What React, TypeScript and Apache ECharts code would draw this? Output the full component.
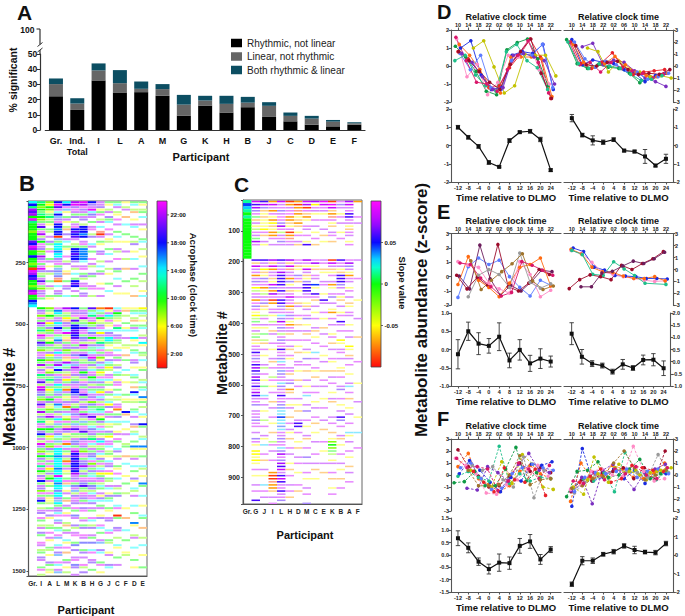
import React, { useEffect, useRef } from "react";
import * as echarts from "echarts";

const FONT = "'Liberation Sans', Arial, Helvetica, sans-serif";

// ---------------- Panel A ----------------
const A_CATEGORIES = ["Gr.", "Ind.\nTotal", "I", "L", "A", "M", "G", "K", "H", "B", "J", "C", "D", "E", "F"];
const A_RHYTHMIC = [22.2, 13.2, 32.6, 24.7, 24.9, 22.5, 9.5, 16.1, 11.5, 15.0, 8.6, 5.7, 3.5, 2.4, 3.5];
const A_LINEAR = [8.0, 4.2, 6.6, 6.1, 2.2, 4.4, 7.2, 3.3, 5.7, 3.0, 7.3, 3.6, 4.0, 3.1, 0.9];
const A_BOTH = [3.7, 3.5, 4.6, 8.6, 4.8, 3.3, 6.4, 3.1, 5.3, 3.8, 2.4, 2.2, 1.8, 1.1, 0.7];
const A_SERIES_NAMES = ["Rhythmic, not linear", "Linear, not rhythmic", "Both rhythmic & linear"];
const A_BREAK_TICK = "100";

// ---------------- Panel B (acrophase heat map) ----------------
const B_PARTICIPANTS = ["Gr.", "I", "A", "L", "M", "K", "B", "H", "G", "J", "C", "F", "D", "E"];
const B_MAX_ROW = 1520;
const B_BLOCK = 10;
const B_SEG_LEN = [40, 3, 33, 45, 31];
// letter -> acrophase (clock hour); lowercase = faint cell
const B_CODES: Record<string, number> = { R: 1, O: 3, Y: 6, L: 8, G: 10, T: 12, C: 14, S: 16, B: 18, V: 20, P: 22, M: 23.5 };
const B_COLUMNS: string[][] = [
  ["CBTPVPGMTGGGLGGGVBMPGGBGGLGRMPBVGGLGPMGG", "BSC", "", "", ""],
  ["TGLGgTGLgpVgmPlvGmpvLgPvmgpMvlgpVmgLpvmg", "...", "GvpLmgPvgTlMpgVbgLpmvGgPlvmTgpVlM", "PvbgLpVmgPlvgTpmGvBgplMvgLpGvgmTpGlvmBgpvLmgpv", "Bg.lpv.mg.lp.vg..mp.lg.vp..gm.l"],
  ["LYGLygTlgy.gl.p.vg.lm..gp.y.vl..g.pl..gy", "...", "LgyGlpYgvLgmlyGpglvYgLmgpyLvgTlpg", "YlgpGvlyLgmPgylvGgpYlmgLvgyTlpgmYgvlGpyg.lmgy", "yl.gp.vy..lg.m.py..gl.y..vg.ly.l"],
  ["BMVpcBsvmBBSBBRsgCCCSCCvpmgsbsbrO.c.pvg.", "...", "mSCgpvCsBpmgcSvlgpCmsgvPcBgmsvpCg", "CsvgmpScgvlpCmsgvpbcgslmCCCSCCCCSCCMCCSCCbCCv", "sCgpvcm.sp.gc.ms..cp.vs..mc.ps.c"],
  ["CBmsy.gpy.lo.v.pc.gy..m.lp..yo..g.pv..c.", "...", "PmlgYovpgcMlyogpvLgmoyPcgvlomYgpl", "OpgylvmOgpcyLmgoPvyglmOcpgyvlOmgpyl.gmoc.yp.g", "o.pg.ym..lo.gp..cy.m.o..gp.y.l"],
  ["PMvmpgv.lpmBVBVp.lgBBVBBv.pl.c.gBVB.p.g.", "...", "BpvmlVgBBVVBVpmgvlpbmgvsPpmvlgbpm", "BBbpmvlgPpbmvgspVmglpbvgmPBVBVBBVBPpvmgbpslvm", "pv.mg.bp..vl.pm..gb.v..pm.bv..p"],
  ["MPmvpgpv.lBBBSB.pmgSSSSSc.pm.gvl.pmg.vp.", "...", "gpvmPlgsVpmgbvlPmgpVslgmpvGbplmvg", "pmVgvlpbmgPvlsgmpVglbpmvgLpmgvbPslvgmpbVglmpv", "gp.vm..lp.gv..mp.b..gv.p..ml.v"],
  ["BvpMcbp.g.pm.lv..cp.g..m.pl..vg...pm..l.", "...", "VgcTmpLgvcbpGmlvtgcpMbgvlcmpGtvlp", "gcpvmLbgtcpVmglcbpvgTmclpgvbcmLpgvtcmpgbvlcpm", "cv.pg..mc.lv..pg.b..cm..pv..g"],
  ["ppvygm.lp.c.rRp.gy..vp..l.c.gp...y.m..p.", "...", "OcgpGylvmcYpglTvcmgpLyvcpgYlmcvgp", "gYpcvlmgTcpyGvlmcpgyvCmlgpcyvgmlcpYgvmlcg.pyv", "c.gp..yv..mc.g..ps..vc...gm..y"],
  ["gy.lp.vgc..m.p.yl..g.c..p..l.y...g..c..", "...", "RypCgmly.cvpCCgy.lmp.vcgYl.pmcyg.", "ypg.lcYv.mgp.cyl.vgY.pmc.lgy.cpv.mY.gl.pc.yvg", "c..gy..pv...cm..gl...yp...vc"],
  ["gcp.ly.m.p..g.c.y..pl..m...vg..c..p..y.", "...", "cpGgly.mTc.vpgl.yc.mgp.lv.cg.ypm", "g.cyl.pmO.gv.cl..yp.mg..cv.lp..gy.m.c..pl.gv", "..cm..Rg...vp..l..cy...g..p"],
  ["y.lp..o..c...g..y...p..l...o....g....y.", "...", "yo.l..g.yc..p..ly..o.g...c.l..y.", "..g.yl...Bo..c..y.p...lg...o..c....y..g...l", "...y...o....c...g....yl...."],
  ["gc.lo..y.pc...g.lv..y..c...p...g..l...o", "...", "ygc.lo.gpc..Cy.l.gc..pv.y..cg.l.o", ".Bc.yl..gc.p..vo.lc..g.Sy..lp..c.g..vy..cl.p.", "..c..g...Sy...lp...c....g..y"],
  ["gy.lg.c..p.y...gc..l..y...c..g..l...y.c", "...", "Ygcl.y.gc..lp.Cy..gl.c..yg...lc.g", "c..Syg.l..cy..Bg...lc..Sy..g...cl..y..Sg...c.", "..y...cg...o...l..c...y....g"],
];
const B_BAR_TICKS = [2, 6, 10, 14, 18, 22];
const B_BAR_LABELS = ["2:00", "6:00", "10:00", "14:00", "18:00", "22:00"];

// ---------------- Panel C (slope heat map) ----------------
const C_PARTICIPANTS = ["Gr.", "G", "J", "I", "L", "H", "D", "M", "C", "E", "K", "B", "A", "F"];
const C_MAX_ROW = 987;
const C_BLOCK = 10;
const C_SEG_LEN = [15, 4, 80];
const C_CODES: Record<string, number> = { R: -0.09, O: -0.07, Y: -0.05, L: -0.025, G: 0, T: 0.015, C: 0.03, S: 0.045, B: 0.06, V: 0.075, P: 0.085, M: 0.095 };
const C_COLUMNS: string[][] = [
  ["TSCTGTGGGGGGGGG", "GGGG", ""],
  ["PBVbpgovylpvgVp", "....", "BoPvpOvbpYlpvOmbpyYlgpyvlgoypvBvbpBVBbVBvBpVBvpb.vpvbpp.v.bpy.YYyYy.p.y..v.p..B."],
  ["BVboyoyyyYpo.vy", "....", "BvpYoybvpOylpvboy.lp.vy.g.lo.p.y..vl.p.y.g..cp.v.y..l.p..vy.c..p.o..v.y..c.p.v"],
  ["OPvOpyOYoyOOp.v", "....", "VoPOvpoyPbOVpRO.pvy.lp.ov..p.y..vo.p..lm.y.p..o.v..p.y..o..lp.v..p...ORRrOOo.v.p"],
  ["PvpbvmpbVplvpbv", "....", "BvbpVBBBBvBvpBBbvpcbVpbvlpbvmBpvbcpvsbvpcbvpBpvbsccSccscpvbvpcbVpbVBPvBPBvpBvpb"],
  ["ROvpmOOoypROrpv", "....", "VoPrvpObyvopPvmOopbvyOpvo.p.vo.py..vpo.vb.Oo.p.yv..o.p.vy.o..p.v..y.o.p..v.p.o"],
  ["OROrOyoOo.yp.vo", "....", "pvoy.bpo.vy.p.ov..py.o.v..p.y.o..vp.y..o.p...v.y.o..vBB.p..y.o..v.p..y...p.o"],
  ["PVRpoOy.pv.p.yB", "....", "VpyPvoybBBBvp.yov.pb.y.vo.p..vy.b.p.o..v.y.pc..v.b..p.y..vo..p..b.v..p.y..v.p..b"],
  ["VYpvy.p.v.y.p.o", "....", "pVyo.pv.Sy.Bpo.v.y.p..vo.y.p..c.v..py.o..v.p..y.v..p.o..y..v...p..v.o..y.."],
  ["MPpvy.p..v.o.y.", "....", "vp.oy..vp..y.Bv..p.y..o.v...p..y.v..o..p.v...y..p...v..o...p..y...v..o.."],
  ["RMPoOrpyo.vp.o.", "....", "RPvoyp.vOy.pb.v.yO.p.v..yp.o.v..py..o.v.p..y.vo....v.p..o.yLGLgl.yv..p.o..y.p"],
  ["pbv.yp.v..y.p..", "....", "BpvyoBBBbv.pyo.v.yp.Bv.p..Yy.vp.v..yo.p..vb..p.y.v.Bb.p..vo.y..p..v.y..o..p"],
  ["VPvpBBpvyopv.yp", "....", "pVbvyOpv.yp.v.oy.pv..y.p.v..Yy.ov.p..y..vc.p.o..y.v..p..cy.v..p.y..o.v..p"],
  ["O....p.v.......", "....", "v.....p......y.....v.....o.......p......y.....v....y....c....p....."],
];
const C_BAR_TICKS = [-0.05, 0, 0.05];
const C_BAR_LABELS = ["-0.05", "0", "0.05"];

// ---------------- Panels D, E, F ----------------
const DLMO_TICKS = [-12, -8, -4, 0, 4, 8, 12, 16, 20, 24];
const CLOCK_LABELS = ["10", "14", "18", "22", "02", "06", "10", "14", "18", "22"];

const D_L_Y: (number | null)[][] = [
  [0.8, 0.4, -0.3, -1.2, -1.1, -0.1, 0.6, 1.5, 0.5, -1.8],
  [1.0, 1.4, -0.5, -1.3, -1.2, 0.6, 0.8, 0.7, 1.2, -1.3],
  [1.1, 0.5, -0.3, -1.4, -1.6, 0.9, 1.3, 1.5, 0.4, -1.1],
  [1.2, 0.6, -0.2, -1.2, -1.5, 0.5, 0.5, 0.5, 0.4, -1.7],
  [1.5, -0.6, 0.1, -1.6, -0.9, 0.6, 0.5, 1.4, -0.2, -1.0],
  [null, 1.0, 1.4, -0.05, -1.5, -1.1, 0.65, 0.6, 0.6, -0.55],
  [0.7, -0.2, 0.6, -1.2, -1.3, 0.3, 0.7, 0.6, 1.2, -1.2],
  [0.3, 0.6, -0.5, -1.1, -1.4, 0.8, 1.2, 0.3, -0.1, -1.3],
  [1.6, 0.3, -0.9, -1.0, -1.4, -0.2, 0.6, 1.4, 0.2, -1.5],
  [0.8, 0.3, -0.3, -0.9, -1.3, 0.1, 0.8, 1.5, -0.4, -1.8],
  [0.7, 0.2, -0.6, -1.3, -1.2, 0.6, 0.7, 0.5, 0.3, -1.0],
];
const D_L_OFF = [0, 1, -1, 0.5, -0.5, 2, 0.8, -1.2, -0.8, 0.3, 1.5];
const D_L_MEAN = [1.0, 0.45, -0.05, -0.93, -1.17, 0.27, 0.73, 0.78, 0.33, -1.35];
const D_L_SE = [0.1, 0.1, 0.1, 0.1, 0.05, 0.1, 0.06, 0.1, 0.12, 0.07];

const D_R_Y: (number | null)[][] = [
  [2.2, 0.2, -0.2, 0.1, -0.1, -0.2, -0.6, -1.4, -0.9, null],
  [2.2, 0.1, 0.5, 0.3, 0.2, -0.3, -0.6, -1.3, -0.8, -0.6],
  [2.0, 0.2, -0.2, 0.3, 1.1, -0.1, -0.7, -0.5, -0.4, -0.3],
  [null, 1.6, 1.9, 0.1, 0.5, 0.3, -0.4, -1.0, -1.3, -1.7],
  [null, 1.5, 1.2, -0.5, 0.4, -0.3, -0.5, -0.9, -0.8, -1.0],
  [1.8, 0.3, -0.1, 0.2, 0.8, 0.1, -0.5, -0.8, -0.9, -0.6],
  [2.0, 0.1, 0.3, -0.5, 0.3, -0.2, -0.4, -0.6, -1.0, -0.7],
  [2.0, 0.6, -0.1, 0.4, 0.1, -0.4, -0.5, -1.1, -0.9, -0.6],
  [1.7, 0.1, 0.0, 0.3, 0.4, -0.3, -0.7, -0.6, -0.7, -0.3],
  [2.0, 0.2, -0.2, 0.2, 0.0, -0.2, -0.7, -1.2, -1.1, -0.8],
];
const D_R_OFF = [-2, 0, -0.5, 0, 2, 0.5, -1, 1, 1.5, -1.5];
const D_R_MEAN = [1.5, 0.57, 0.28, 0.18, 0.32, -0.28, -0.33, -0.6, -1.1, -0.73];
const D_R_SE = [0.2, 0.1, 0.25, 0.12, 0.1, 0.07, 0.07, 0.38, 0.07, 0.25];

const E_L_Y: (number | null)[][] = [
  [-1.45, 0.7, 1.3, 0.85, 1.15, 0.0, -0.75, -1.35, -0.25, -0.6],
  [0.05, -0.85, 2.2, -0.15, -1.3, -0.6, -1.0, -0.35, 0.45, 0.35],
  [0.1, -0.85, -0.05, -0.6, 2.25, -0.7, -1.0, -0.45, 0.5, 0.15],
  [-0.55, 1.4, -0.25, -0.75, -1.4, -0.45, 0.65, 0.85, 1.3, -0.65],
  [1.05, 0.8, 0.65, -0.45, -0.85, -1.15, 1.05, 0.15, -1.4, -0.95],
  [null, -1.4, 0.1, 0.5, 0.15, -0.75, 1.65, -0.4, -0.8, -0.5],
  [null, 1.1, -0.9, -0.25, 0.35, 0.9, 1.6, -0.3, -0.9, -0.65],
  [0.95, 0.85, -0.1, -0.7, -1.35, -1.1, 1.05, 0.8, 0.45, 0.1],
];
const E_L_OFF = [0, 0.5, -0.5, 0, 0, 0, 1, 0.8];
const E_L_MEAN = [-0.13, 0.5, 0.16, 0.1, 0.35, -0.3, -0.01, -0.38, -0.25, -0.33];
const E_L_SE = [0.4, 0.25, 0.3, 0.2, 0.38, 0.2, 0.28, 0.22, 0.27, 0.15];

const E_R_Y: (number | null)[][] = [
  [1.8, 1.5, 0.2, -0.05, -0.5, -0.55, -0.6, -0.75, -0.75, -0.8],
  [1.6, 1.35, 0.6, -0.2, -0.4, -0.6, -0.75, -0.9, -1.0, -0.95],
  [1.7, 1.3, 0.2, -0.2, -0.25, -0.55, -0.75, -0.75, -0.6, -0.95],
  [1.6, 1.25, -0.4, -0.5, 0.65, 0.05, -0.5, -1.15, null, -1.25],
  [-1.6, -0.85, -0.45, -0.6, -0.85, 0.35, 0.0, 0.5, 0.9, 1.5],
  [null, -1.45, -1.45, -0.3, -0.15, 0.3, 0.7, 0.5, 0.9, 1.45],
];
const E_R_OFF = [0.5, -0.3, -0.3, 0, -1, -0.5];
const E_R_MEAN = [1.15, 0.2, -0.08, -0.16, -0.41, -0.11, -0.26, 0.07, 0.08, -0.27];
const E_R_SE = [0.45, 0.3, 0.12, 0.1, 0.1, 0.2, 0.1, 0.2, 0.25, 0.3];

const F_L_Y: (number | null)[][] = [
  [2.1, 0.7, -0.1, -1.0, -0.9, -0.1, 1.0, 0.3, 0.6, 0.2],
  [0.7, 1.8, -0.3, -0.8, -1.4, -0.9, 0.3, 0.8, 0.1, -0.3],
  [1.4, 0.8, 0.1, -1.5, -1.6, -0.8, -0.4, 0.5, 0.8, -0.1],
  [0.1, 1.2, 0.4, -0.6, -1.4, -0.2, -0.5, 0.9, 0.8, 1.1],
  [-0.65, -0.55, 0.3, -0.9, -0.9, 0.5, 2.3, -0.5, 0.2, null],
  [-0.1, 0.3, -0.2, -0.5, 2.4, -0.7, 0.1, -0.5, -0.2, -0.3],
  [null, -1.1, -1.25, 0.7, 0.2, -0.5, 0.9, 1.8, 0.4, 0.2],
  [null, 0.4, -0.3, -1.0, 1.1, -0.7, 1.7, 0.9, -1.0, -1.2],
  [null, 0.8, 0.4, 0.7, -0.4, -1.0, 1.5, -1.9, 0.4, null],
  [1.4, 0.6, 0.7, 0.5, -1.3, -0.5, 1.0, 0.5, -0.3, 0.8],
  [null, 0.4, -0.9, -0.9, -0.8, 0.0, 1.6, -0.8, -0.4, -0.3],
  [0.6, 1.0, -0.3, -1.2, -1.1, 0.1, 0.6, 0.9, 0.6, 0.4],
  [null, 0.3, -0.6, -1.4, 0.6, -0.4, -0.6, 0.5, -1.7, null],
];
const F_L_OFF = [0, 0, -1, 0.5, -1.5, 0, -0.5, 1, 1.5, -0.5, 0, 1, 2];
const F_L_MEAN = [0.68, 0.29, -0.27, -0.57, -0.31, -0.33, 0.37, 0.55, -0.18, 0.22];
const F_L_SE = [0.3, 0.2, 0.15, 0.2, 0.35, 0.25, 0.3, 0.28, 0.2, 0.12];

const F_R_Y: (number | null)[][] = [
  [-2.6, 2.2, -0.5, -0.2, 0.5, -0.3, 0.4, -0.7, 0.3, 0.1],
  [-2.2, 1.0, -0.3, 0.0, 0.8, 0.5, -0.2, -0.3, 0.2, 1.0],
  [-1.4, -0.4, -0.5, 0.2, 0.3, 0.6, -0.3, 0.6, -0.4, 2.0],
  [-1.8, 0.3, 0.4, 1.1, -0.2, 0.0, 0.5, 1.3, -0.3, 0.1],
  [-1.1, -0.3, -0.5, 0.2, -1.4, 1.9, 0.4, 0.0, -0.4, 0.3],
  [-1.3, -0.2, -2.4, 0.4, 0.9, -0.1, -1.2, 0.2, 0.5, 0.9],
  [-1.0, -1.6, 1.5, -0.3, 0.6, 0.2, 0.4, -0.4, 0.3, 0.6],
  [-1.2, -0.8, 0.3, 0.5, 0.0, -0.1, 2.4, 0.3, -0.5, -0.3],
  [-1.5, -0.6, 0.0, 0.1, 0.4, 0.3, 0.2, -0.2, 1.7, 0.2],
  [-1.1, -0.9, -0.3, -0.1, 1.0, 2.0, 0.6, -0.4, 0.0, 0.4],
  [-0.5, -0.7, 0.2, -0.4, 0.5, 0.1, 0.7, 0.0, -0.3, 0.6],
  [-1.4, -0.2, 0.2, 0.1, 0.3, 0.5, -0.2, 0.3, 0.5, 0.1],
  [null, -0.6, -0.1, 0.5, -0.6, -0.3, 0.8, 0.6, 0.4, 0.3],
  [null, -0.4, 0.1, -0.6, 0.9, 0.3, 0.0, 0.2, 0.4, 0.6],
];
const F_R_OFF = [0, -0.5, -0.3, -2, 0.3, -0.2, 0.5, -0.5, 1, 0, 0.5, 1, -1, 2];
const F_R_MEAN = [-1.58, -0.31, -0.31, 0.04, 0.18, 0.49, 0.27, 0.16, 0.13, 0.62];
const F_R_SE = [0.12, 0.22, 0.15, 0.1, 0.12, 0.12, 0.2, 0.1, 0.12, 0.12];

// axis ranges [min, max, interval, decimals]
const D_RANGES = { topL: [-2, 2, 1, 0], topR: [-3, 3, 1, 0], botL: [-2, 2, 1, 0], botR: [-2, 2, 1, 0] };
const E_RANGES = { topL: [-2, 3, 1, 0], topR: [-3, 3, 1, 0], botL: [-1, 1, 0.5, 1], botR: [-1, 2, 0.5, 1] };
const F_RANGES = { topL: [-3, 3, 1, 0], topR: [-3, 3, 1, 0], botL: [-1.5, 1.5, 0.5, 1], botR: [-2, 2, 1, 0] };

// ---------------- styles ----------------
const PAL = {
  red: "#e8222b", blue: "#1b2be0", green: "#0f9a45", orange: "#ff6a10", pink: "#ff8cc6",
  olive: "#c2c200", lblue: "#5b7bff", teal: "#1fbf8a", magenta: "#d9176a", dred: "#9c0b2a",
  purple: "#7a2fc0", gray: "#9a9a9a", brown: "#a0742c", dpurple: "#6c1d5c",
};
const D_L_COLORS = [PAL.red, PAL.blue, PAL.green, PAL.orange, PAL.pink, PAL.olive, PAL.lblue, PAL.teal, PAL.magenta, PAL.dred, PAL.purple];
const D_R_COLORS = [PAL.green, PAL.blue, PAL.red, PAL.purple, PAL.olive, PAL.orange, PAL.magenta, PAL.lblue, PAL.dred, PAL.teal];
const E_L_COLORS = [PAL.lblue, PAL.dpurple, PAL.dred, PAL.orange, PAL.pink, PAL.gray, PAL.brown, PAL.magenta];
const E_R_COLORS = [PAL.blue, PAL.pink, PAL.orange, PAL.teal, PAL.dred, PAL.dpurple];
const F_L_COLORS = [PAL.dred, PAL.orange, PAL.pink, PAL.blue, PAL.green, PAL.teal, PAL.purple, PAL.olive, PAL.gray, PAL.magenta, PAL.brown, PAL.lblue, PAL.red];
const F_R_COLORS = [PAL.blue, PAL.orange, PAL.dred, PAL.green, PAL.teal, PAL.purple, PAL.olive, PAL.pink, PAL.gray, PAL.brown, PAL.magenta, PAL.lblue, PAL.red, PAL.olive];

const B_HUES: [number, number][] = [[0, 0], [0.25, 60], [0.4167, 120], [0.5833, 180], [0.75, 240], [0.9167, 280], [1, 300]];
const C_HUES: [number, number][] = [[0, 0], [0.25, 60], [0.5, 120], [0.625, 180], [0.75, 240], [0.875, 280], [1, 300]];

function hueAt(t: number, stops: [number, number][]) {
  const tt = Math.max(0, Math.min(1, t));
  for (let i = 1; i < stops.length; i++) {
    const [t0, h0] = stops[i - 1];
    const [t1, h1] = stops[i];
    if (tt <= t1) return h0 + ((h1 - h0) * (tt - t0)) / (t1 - t0);
  }
  return stops[stops.length - 1][1];
}
function hslHex(h: number, s: number, l: number) {
  const a = s * Math.min(l, 1 - l);
  const f = (n: number) => {
    const k = (n + h / 30) % 12;
    const c = l - a * Math.max(-1, Math.min(k - 3, 9 - k, 1));
    return Math.round(c * 255).toString(16).padStart(2, "0");
  };
  return "#" + f(0) + f(8) + f(4);
}
function cellColor(t: number, faint: boolean, stops: [number, number][]) {
  return hslHex(hueAt(t, stops), 1, faint ? 0.77 : 0.52);
}

function decode(s: string, n: number) {
  const out: string[] = [];
  for (let i = 0; i < s.length; i++) out.push(s[i]);
  while (out.length < n) out.push(".");
  return out.slice(0, n);
}
function buildCells(columns: string[][], segLen: number[], codes: Record<string, number>, block: number) {
  const cells: number[][] = [];
  columns.forEach((segs, ci) => {
    const chars: string[] = [];
    segLen.forEach((len, si) => chars.push(...decode(segs[si] || "", len)));
    chars.forEach((ch, b) => {
      if (ch === ".") return;
      const v = codes[ch.toUpperCase()];
      if (v === undefined) return;
      cells.push([ci, b * block, v, ch === ch.toUpperCase() ? 0 : 1]);
    });
  });
  return cells;
}

const AX = { color: "#555", width: 1.1 };
const lab = (size: number) => ({ fontSize: size, fontWeight: "bold", color: "#222", fontFamily: FONT });

function txt(text: string, x: number, y: number, size: number, o: any = {}) {
  return {
    type: "text", x, y, rotation: o.rot || 0, silent: true, z: 100,
    style: {
      text, fill: o.color || "#111", fontSize: size, fontWeight: o.weight || "bold", fontFamily: FONT,
      align: o.align || "center", verticalAlign: o.va || "middle",
      textAlign: o.align || "center", textVerticalAlign: o.va || "middle",
    },
  };
}
function seg(x1: number, y1: number, x2: number, y2: number, w = 1.1, c = "#444") {
  return { type: "line", silent: true, z: 100, shape: { x1, y1, x2, y2 }, style: { stroke: c, lineWidth: w } };
}

// thin: fraction of a row block that is painted (the rest stays white, like the source's thin lines)
function heatRender(toT: (v: number) => number, stops: [number, number][], block: number, thin: number) {
  return (_p: any, api: any) => {
    const ci = api.value(0);
    const r = api.value(1);
    const p0 = api.coord([ci, r]);
    const p1 = api.coord([ci, r + block]);
    const bw = api.size([1, 0])[0];
    const full = Math.abs(p1[1] - p0[1]);
    const top = Math.min(p0[1], p1[1]);
    const h = ci === 0 ? full + 0.15 : full * thin;
    const y0 = ci === 0 ? top : top + (full - h) / 2;
    return {
      type: "rect",
      shape: { x: p0[0] - bw / 2, y: y0, width: bw, height: h },
      style: { fill: cellColor(toT(api.value(2)), api.value(3) === 1, stops) },
    };
  };
}

function traceSeries(ys: (number | null)[][], offs: number[], colors: string[], xi: number, yi: number, dashed: boolean) {
  return ys.map((y, k) => ({
    type: "line", xAxisIndex: xi, yAxisIndex: yi, silent: true, z: 2,
    data: y.map((v, i) => (v === null ? null : [DLMO_TICKS[i] + offs[k], v])).filter((d) => d !== null),
    symbol: "circle", symbolSize: 3.6,
    lineStyle: { width: 0.9, color: colors[k], type: dashed ? [2.5, 1.6] : "solid" },
    itemStyle: { color: colors[k] },
  }));
}
function errSeries(mean: number[], se: number[], xi: number, yi: number) {
  return {
    type: "custom", xAxisIndex: xi, yAxisIndex: yi, silent: true, z: 3,
    data: mean.map((m, i) => [DLMO_TICKS[i], m - se[i], m + se[i]]),
    encode: { x: 0, y: [1, 2] },
    renderItem: (_p: any, api: any) => {
      const x = api.value(0);
      const a = api.coord([x, api.value(1)]);
      const b = api.coord([x, api.value(2)]);
      const w = 2.2;
      const st = { stroke: "#333", lineWidth: 0.9 };
      return {
        type: "group",
        children: [
          { type: "line", shape: { x1: a[0], y1: a[1], x2: b[0], y2: b[1] }, style: st },
          { type: "line", shape: { x1: a[0] - w, y1: a[1], x2: a[0] + w, y2: a[1] }, style: st },
          { type: "line", shape: { x1: b[0] - w, y1: b[1], x2: b[0] + w, y2: b[1] }, style: st },
        ],
      };
    },
  };
}

function buildOption() {
  const grid: any[] = [];
  const xAxis: any[] = [];
  const yAxis: any[] = [];
  const series: any[] = [];
  const els: any[] = [];

  // ---- A ----
  grid.push({ left: 45.3, top: 54, width: 319.7, height: 76 });
  xAxis.push({
    gridIndex: 0, type: "category", data: A_CATEGORIES,
    axisLine: { onZero: false, lineStyle: { color: "#333", width: 1.2 } }, axisTick: { show: false },
    axisLabel: { ...lab(9), color: "#111", interval: 0, margin: 5, lineHeight: 11 },
  });
  yAxis.push({
    gridIndex: 0, type: "value", min: 0, max: 50, interval: 10, offset: 5,
    axisLine: { show: true, lineStyle: { color: "#333", width: 1.2 } },
    axisTick: { show: true, length: 3.5, lineStyle: { color: "#333" } },
    axisLabel: { ...lab(8.5), color: "#111", margin: 3 }, splitLine: { show: false },
  });
  const aCols = ["#000000", "#666666", "#0c4e62"];
  [A_RHYTHMIC, A_LINEAR, A_BOTH].forEach((d, i) => {
    series.push({ name: A_SERIES_NAMES[i], type: "bar", stack: "a", xAxisIndex: 0, yAxisIndex: 0, data: d, barWidth: 14, itemStyle: { color: aCols[i] }, silent: true });
  });
  els.push(seg(40, 29, 40, 44.5, 1.2, "#333"), seg(36.5, 29, 40, 29, 1.1, "#333"), seg(40, 54, 40, 50, 1.2, "#333"));
  els.push(seg(37.5, 46.5, 42.5, 42.5, 1, "#333"), seg(37.5, 52, 42.5, 48, 1, "#333"));
  els.push(txt(A_BREAK_TICK, 34.5, 29.5, 8.5, { align: "right" }));
  els.push(txt("A", 17, 12, 21, { align: "left" }));
  els.push(txt("% significant", 13, 80, 10.5, { rot: Math.PI / 2 }));
  els.push(txt("Participant", 201, 157, 11));

  // ---- B ----
  grid.push({ left: 28.5, top: 201, width: 118.5, height: 375, show: true, borderColor: "#666", borderWidth: 1 });
  xAxis.push({
    gridIndex: 1, type: "category", data: B_PARTICIPANTS,
    axisLine: { onZero: false, lineStyle: { color: "#555", width: 1.2 } }, axisTick: { show: false },
    axisLabel: { ...lab(6.5), interval: 0, margin: 4 },
  });
  yAxis.push({
    gridIndex: 1, type: "value", inverse: true, min: 0, max: B_MAX_ROW, interval: 250,
    axisLine: { show: true, onZero: false, lineStyle: { color: "#555", width: 1.2 } },
    axisTick: { show: true, length: 2, lineStyle: { color: "#555" } },
    axisLabel: { ...lab(6), margin: 3, formatter: (v: number) => (v > 0 && v % 250 === 0 ? String(v) : "") },
    splitLine: { show: false },
  });
  series.push({
    type: "custom", xAxisIndex: 1, yAxisIndex: 1, silent: true, clip: true,
    data: buildCells(B_COLUMNS, B_SEG_LEN, B_CODES, B_BLOCK), encode: { x: 0, y: 1 },
    renderItem: heatRender((h) => h / 24, B_HUES, B_BLOCK, 0.8),
  });
  els.push(txt("B", 19, 183, 22, { align: "left" }));
  els.push(txt("Metabolite #", 9, 397, 17, { rot: Math.PI / 2 }));
  els.push(txt("Participant", 86, 610, 11));
  // colour bar B
  const bStops: any[] = [];
  for (let i = 0; i <= 20; i++) bStops.push({ offset: i / 20, color: cellColor(i / 20, false, B_HUES) });
  els.push({ type: "rect", silent: true, z: 99, shape: { x: 157, y: 201, width: 10, height: 167 }, style: { fill: new echarts.graphic.LinearGradient(0, 1, 0, 0, bStops), stroke: "#444", lineWidth: 0.8 } });
  B_BAR_TICKS.forEach((h, i) => {
    const y = 368 - (h / 24) * 167;
    els.push(seg(167, y, 169, y, 0.8, "#444"));
    els.push(txt(B_BAR_LABELS[i], 170.5, y, 6, { align: "left" }));
  });
  els.push(txt("Acrophase (clock time)", 193, 285, 9.5, { rot: -Math.PI / 2 }));

  // ---- C ----
  grid.push({ left: 243, top: 200, width: 119, height: 304, show: true, borderColor: "#666", borderWidth: 1 });
  xAxis.push({
    gridIndex: 2, type: "category", data: C_PARTICIPANTS,
    axisLine: { onZero: false, lineStyle: { color: "#555", width: 1.2 } }, axisTick: { show: false },
    axisLabel: { ...lab(6.5), interval: 0, margin: 4 },
  });
  yAxis.push({
    gridIndex: 2, type: "value", inverse: true, min: 0, max: C_MAX_ROW, interval: 100,
    axisLine: { show: true, onZero: false, lineStyle: { color: "#555", width: 1.2 } },
    axisTick: { show: true, length: 2, lineStyle: { color: "#555" } },
    axisLabel: { ...lab(7), margin: 3, formatter: (v: number) => (v > 0 && v % 100 === 0 ? String(v) : "") },
    splitLine: { show: false },
  });
  series.push({
    type: "custom", xAxisIndex: 2, yAxisIndex: 2, silent: true, clip: true,
    data: buildCells(C_COLUMNS, C_SEG_LEN, C_CODES, C_BLOCK), encode: { x: 0, y: 1 },
    renderItem: heatRender((s) => (s + 0.1) / 0.2, C_HUES, C_BLOCK, 0.5),
  });
  els.push(txt("C", 234, 184, 21, { align: "left" }));
  els.push(txt("Metabolite #", 222, 353, 14.5, { rot: Math.PI / 2 }));
  els.push(txt("Participant", 305, 535, 11));
  const cStops: any[] = [];
  for (let i = 0; i <= 20; i++) cStops.push({ offset: i / 20, color: cellColor(i / 20, false, C_HUES) });
  els.push({ type: "rect", silent: true, z: 99, shape: { x: 371, y: 201, width: 10, height: 166 }, style: { fill: new echarts.graphic.LinearGradient(0, 1, 0, 0, cStops), stroke: "#444", lineWidth: 0.8 } });
  C_BAR_TICKS.forEach((v, i) => {
    const y = 367 - ((v + 0.1) / 0.2) * 166;
    els.push(seg(381, y, 383, y, 0.8, "#444"));
    els.push(txt(C_BAR_LABELS[i], 384.5, y, 6, { align: "left" }));
  });
  els.push(txt("Slope value", 402, 283, 9.5, { rot: -Math.PI / 2 }));

  // ---- D, E, F ----
  const COLS = [
    { side: "left", x: 451, w: 110, range: [-14.7, 28] },
    { side: "right", x: 564, w: 109, range: [-15, 26.7] },
  ];
  const ROWS = [
    { letter: "D", topY: 30, topH: 72, botY: 109, botH: 73, ly: 12, ranges: D_RANGES, dashed: false,
      L: { y: D_L_Y, off: D_L_OFF, col: D_L_COLORS, mean: D_L_MEAN, se: D_L_SE },
      R: { y: D_R_Y, off: D_R_OFF, col: D_R_COLORS, mean: D_R_MEAN, se: D_R_SE } },
    { letter: "E", topY: 233.7, topH: 71.6, botY: 313, botH: 73, ly: 212, ranges: E_RANGES, dashed: false,
      L: { y: E_L_Y, off: E_L_OFF, col: E_L_COLORS, mean: E_L_MEAN, se: E_L_SE },
      R: { y: E_R_Y, off: E_R_OFF, col: E_R_COLORS, mean: E_R_MEAN, se: E_R_SE } },
    { letter: "F", topY: 439, topH: 72, botY: 518, botH: 74, ly: 419, ranges: F_RANGES, dashed: true,
      L: { y: F_L_Y, off: F_L_OFF, col: F_L_COLORS, mean: F_L_MEAN, se: F_L_SE },
      R: { y: F_R_Y, off: F_R_OFF, col: F_R_COLORS, mean: F_R_MEAN, se: F_R_SE } },
  ];
  const yFmt = (dec: number) => (v: number) => v.toFixed(dec);
  ROWS.forEach((row) => {
    els.push(txt(row.letter, 437, row.ly, 20, { align: "left" }));
    COLS.forEach((col, ci) => {
      const d = ci === 0 ? row.L : row.R;
      const tr = ci === 0 ? row.ranges.topL : row.ranges.topR;
      const br = ci === 0 ? row.ranges.botL : row.ranges.botR;
      // top panel
      let gi = grid.length;
      grid.push({ left: col.x, top: row.topY, width: col.w, height: row.topH });
      xAxis.push({
        gridIndex: gi, type: "value", position: "top", min: col.range[0], max: col.range[1],
        axisLine: { show: true, onZero: false, lineStyle: AX },
        axisTick: { show: true, customValues: DLMO_TICKS, length: 2.5, lineStyle: AX },
        axisLabel: { ...lab(5.5), margin: 2, customValues: DLMO_TICKS, formatter: (v: number) => CLOCK_LABELS[DLMO_TICKS.indexOf(v)] ?? "" },
        splitLine: { show: false },
      });
      yAxis.push({
        gridIndex: gi, type: "value", position: col.side, min: tr[0], max: tr[1], interval: tr[2],
        axisLine: { show: true, onZero: false, lineStyle: AX },
        axisTick: { show: true, length: 2.5, lineStyle: AX },
        axisLabel: { ...lab(5.5), margin: 2, formatter: yFmt(tr[3]) }, splitLine: { show: false },
      });
      series.push(...traceSeries(d.y, d.off, d.col, gi, gi, row.dashed));
      // bottom panel
      gi = grid.length;
      grid.push({ left: col.x, top: row.botY, width: col.w, height: row.botH });
      xAxis.push({
        gridIndex: gi, type: "value", position: "bottom", min: col.range[0], max: col.range[1],
        axisLine: { show: true, onZero: false, lineStyle: AX },
        axisTick: { show: true, customValues: DLMO_TICKS, length: 2.5, lineStyle: AX },
        axisLabel: { ...lab(5.5), margin: 2.5, customValues: DLMO_TICKS, formatter: (v: number) => String(v) },
        splitLine: { show: false },
      });
      yAxis.push({
        gridIndex: gi, type: "value", position: col.side, min: br[0], max: br[1], interval: br[2],
        axisLine: { show: true, onZero: false, lineStyle: AX },
        axisTick: { show: true, length: 2.5, lineStyle: AX },
        axisLabel: { ...lab(5.5), margin: 2, formatter: yFmt(br[3]) }, splitLine: { show: false },
      });
      series.push(errSeries(d.mean, d.se, gi, gi));
      series.push({
        type: "line", xAxisIndex: gi, yAxisIndex: gi, silent: true, z: 4,
        data: d.mean.map((m, i) => [DLMO_TICKS[i], m]),
        symbol: "rect", symbolSize: 4, lineStyle: { color: "#111", width: 1.2 }, itemStyle: { color: "#111" },
      });
      const cx = col.x + col.w / 2;
      els.push(txt("Relative clock time", cx, row.topY - 13, 9));
      els.push(txt("Time relative to DLMO", cx, row.botY + row.botH + 15, 9.5));
    });
  });
  els.push(txt("Metabolite abundance (z-score)", 421, 310, 17, { rot: Math.PI / 2 }));

  return {
    animation: false,
    backgroundColor: "#ffffff",
    textStyle: { fontFamily: FONT },
    legend: {
      data: A_SERIES_NAMES, left: 231, top: 38, orient: "vertical", icon: "rect",
      itemWidth: 11, itemHeight: 8.5, itemGap: 3.5, padding: 0, selectedMode: false,
      textStyle: { fontSize: 10, color: "#222", fontFamily: FONT },
    },
    grid, xAxis, yAxis, series,
    graphic: { elements: els },
  };
}

export default function App() {
  const ref = useRef<HTMLDivElement>(null);
  useEffect(() => {
    if (!ref.current) return;
    const chart = echarts.init(ref.current, undefined, { renderer: "svg" });
    chart.setOption(buildOption() as any);
    return () => chart.dispose();
  }, []);
  return <div ref={ref} style={{ position: "absolute", left: 0, top: 0, width: 685, height: 616, background: "#fff" }} />;
}
